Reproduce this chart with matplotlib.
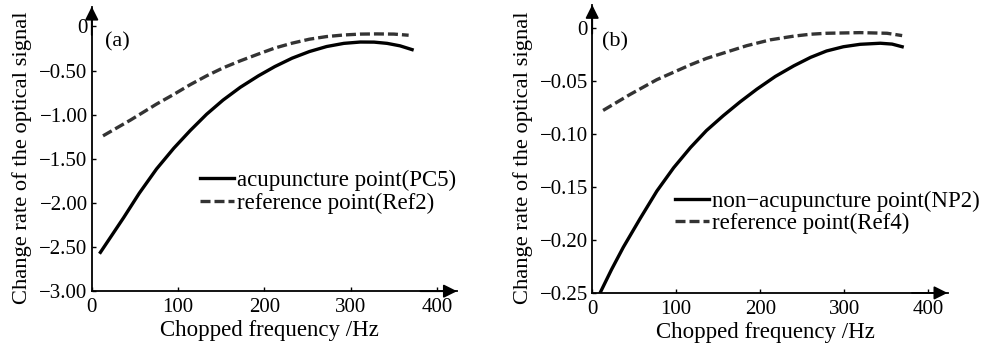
import numpy as np
import matplotlib
matplotlib.use("Agg")
import matplotlib.pyplot as plt
from matplotlib.ticker import FuncFormatter

plt.rcParams['font.family'] = ['Liberation Serif', 'DejaVu Serif']
plt.rcParams['axes.unicode_minus'] = True

# panel (a)
freq_pc5 = [10, 23, 37, 55, 75, 95, 114, 133, 152, 172, 193, 212, 232, 252, 272,
            292, 311, 327, 342, 357, 371]
pc5 = [-2.56, -2.37, -2.165, -1.89, -1.615, -1.38, -1.18, -0.995, -0.835, -0.69,
       -0.56, -0.455, -0.36, -0.285, -0.228, -0.192, -0.177, -0.178, -0.192, -0.22, -0.263]
freq_ref2 = [13, 45, 75, 95, 114, 133, 152, 172, 191, 212, 232, 252, 272, 292,
             311, 330, 350, 367]
ref2 = [-1.24, -1.06, -0.88, -0.77, -0.66, -0.56, -0.47, -0.39, -0.32, -0.245,
        -0.19, -0.145, -0.115, -0.097, -0.087, -0.085, -0.087, -0.10]

# panel (b)
freq_np2 = [10, 23, 37, 57, 77, 97, 117, 136, 156, 176, 196, 218, 240, 260, 279,
            299, 319, 343, 357, 369]
np2 = [-0.249, -0.228, -0.207, -0.180, -0.154, -0.132, -0.113, -0.097, -0.083,
       -0.070, -0.058, -0.046, -0.036, -0.028, -0.022, -0.018, -0.0157, -0.0147,
       -0.0155, -0.018]
freq_ref4 = [13, 45, 77, 97, 117, 136, 156, 184, 212, 240, 260, 279, 319, 351, 369]
ref4 = [-0.078, -0.063, -0.049, -0.042, -0.035, -0.029, -0.024, -0.017, -0.0115,
        -0.0080, -0.0062, -0.0053, -0.0047, -0.0053, -0.0075]

yticks_a = [0, -0.5, -1.0, -1.5, -2.0, -2.5, -3.0]
yticks_b = [0, -0.05, -0.10, -0.15, -0.20, -0.25]
xticks = [0, 100, 200, 300, 400]


def fmt(ndig):
    def f(v, pos):
        if abs(v) < 1e-9:
            return '0'
        s = f'{abs(v):.{ndig}f}'
        return ('\u2212' if v < 0 else '') + s
    return FuncFormatter(f)


def style(ax, ylim, yticks, tag, tagpos):
    ax.set_xlim(0, 423)
    ax.set_ylim(*ylim)
    ax.set_xticks(xticks)
    ax.set_yticks(yticks)
    ax.yaxis.set_major_formatter(fmt(2))
    ax.spines['top'].set_visible(False)
    ax.spines['right'].set_visible(False)
    for s in ('left', 'bottom'):
        ax.spines[s].set_linewidth(1.3)
    ax.tick_params(direction='in', length=3, width=1, labelsize=15)
    ax.tick_params(axis='x', pad=5)
    ax.tick_params(axis='y', pad=3)
    ax.set_xlabel('Chopped frequency /Hz', fontsize=16.5, labelpad=0)
    ax.set_ylabel('Change rate of the optical signal', fontsize=16.2, labelpad=5)
    ax.xaxis.set_label_coords(0.487, -0.1)
    ax.yaxis.label.set_y(0.47)
    ax.text(tagpos[0], tagpos[1], tag, transform=ax.transAxes, fontsize=16, va='center')
    # arrows at axis ends
    ax.annotate('', xy=(1.0, 0), xytext=(0.9, 0), xycoords='axes fraction',
                arrowprops=dict(arrowstyle='-|>', color='black', lw=1.3,
                                mutation_scale=20, shrinkA=0, shrinkB=0))
    ax.annotate('', xy=(0, 1.0), xytext=(0, 0.9), xycoords='axes fraction',
                arrowprops=dict(arrowstyle='-|>', color='black', lw=1.3,
                                mutation_scale=20, shrinkA=0, shrinkB=0))


fig = plt.figure(figsize=(9.87, 3.45), dpi=100)
ax1 = fig.add_axes([0.093, 0.156, 0.370, 0.825])
ax2 = fig.add_axes([0.600, 0.151, 0.360, 0.835])

ax1.plot(freq_pc5, pc5, color='black', lw=2.4, label='acupuncture point(PC5)')
ax1.plot(freq_ref2, ref2, color='#333333', lw=2.4, linestyle=(0, (3, 1.2)),
         label='reference point(Ref2)')
style(ax1, (-3.0, 0.225), yticks_a, '(a)', (0.036, 0.877))
ax1.legend(loc='upper left', bbox_to_anchor=(0.296, 0.425), frameon=False,
           fontsize=16.5, handlelength=1.5, handletextpad=0.1, labelspacing=0.05,
           borderpad=0, borderaxespad=0)

ax2.plot(freq_np2, np2, color='black', lw=2.4, label='non\u2212acupuncture point(NP2)')
ax2.plot(freq_ref4, ref4, color='#333333', lw=2.4, linestyle=(0, (3, 1.2)),
         label='reference point(Ref4)')
style(ax2, (-0.25, 0.0215), yticks_b, '(b)', (0.028, 0.872))
ax2.legend(loc='upper left', bbox_to_anchor=(0.233, 0.355), frameon=False,
           fontsize=16.5, handlelength=1.5, handletextpad=0.1, labelspacing=0.05,
           borderpad=0, borderaxespad=0)

fig.savefig('out.png', dpi=100, facecolor='white')
